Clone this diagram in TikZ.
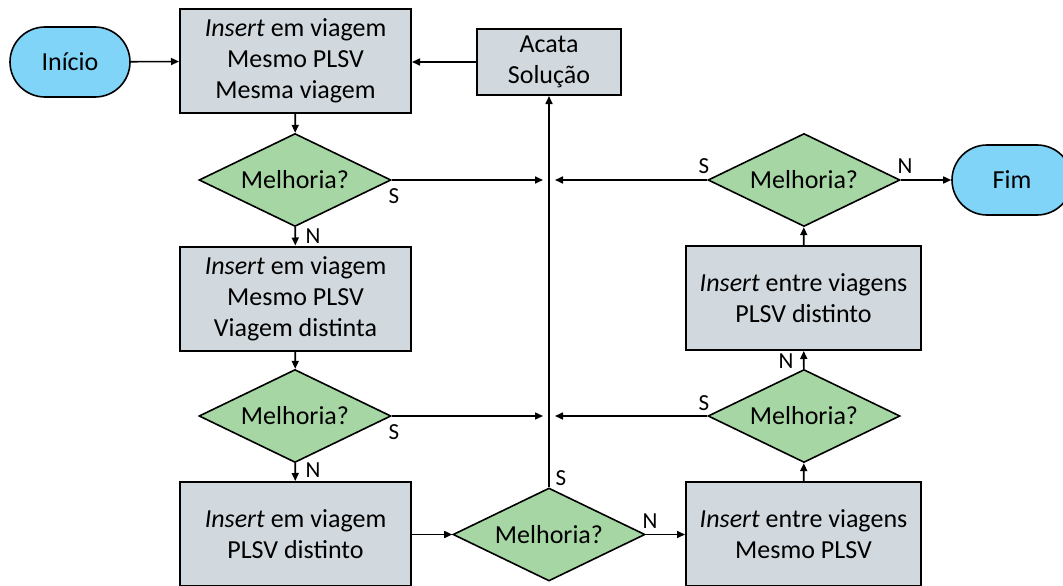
\documentclass[tikz,border=0pt]{standalone}
\usepackage{fontspec}
\setmainfont{Carlito}
\usetikzlibrary{shapes.geometric,shapes.misc,arrows.meta}
\definecolor{boxgray}{HTML}{D1D9DE}
\definecolor{decgreen}{HTML}{A6D6A3}
\definecolor{termblue}{HTML}{80D4F8}

\begin{document}
\begin{tikzpicture}[x=1pt,y=-1pt,
  every node/.style={font=\fontsize{26}{31}\selectfont, align=center},
  procbox/.style={draw, line width=2pt, fill=boxgray, minimum width=231, minimum height=104, inner sep=0},
  decision/.style={draw, line width=1.6pt, fill=decgreen, diamond, aspect=2.06, minimum width=192, minimum height=93, inner sep=0},
  terminal/.style={draw, line width=1.6pt, fill=termblue, rounded rectangle, minimum width=120, minimum height=70, inner sep=0},
  flow/.style={line width=1.6pt, -{Triangle[length=8pt,width=7pt]}},
  branch/.style={font=\fontsize{23}{25}\selectfont, inner sep=0}
]
\useasboundingbox (0,0) rectangle (1063,586);

% terminals
\node[terminal] (start) at (70,62) {Início};
\node[terminal] (stop) at (1012,180) {Fim};

% left column
\node[procbox] (b1) at (295.5,61) {\textit{Insert} em viagem\\Mesmo PLSV\\Mesma viagem};
\node[decision] (d1) at (295,180) {Melhoria?};
\node[procbox] (b2) at (295.5,298.5) {\textit{Insert} em viagem\\Mesmo PLSV\\Viagem distinta};
\node[decision] (d2) at (295,416) {Melhoria?};
\node[procbox] (b3) at (295.5,534) {\textit{Insert} em viagem\\PLSV distinto};

% middle
\node[procbox, minimum width=144, minimum height=66] (acc) at (549,62) {Acata\\Solução};
\node[decision] (d4) at (549,534.5) {Melhoria?};

% right column
\node[procbox, minimum width=235] (b4) at (803.5,534) {\textit{Insert} entre viagens\\Mesmo PLSV};
\node[decision] (d5) at (804,416) {Melhoria?};
\node[procbox, minimum width=235] (b5) at (803.5,298) {\textit{Insert} entre viagens\\PLSV distinto};
\node[decision] (d6) at (804,180) {Melhoria?};

% junctions on the return line
\coordinate (j1) at (549,180);
\coordinate (j2) at (549,416);

% connectors
\draw[flow] (start) -- (b1);
\draw[flow] (acc) -- (b1.east |- acc);
\draw[flow] (b1) -- (d1);
\draw[flow] (d1) -- (b2);
\draw[flow] (b2) -- (d2);
\draw[flow] (d2) -- (b3);
\draw[flow] (b3.east |- d4) -- (d4);
\draw[flow] (d4) -- (b4.west |- d4);
\draw[flow] (b4) -- (d5);
\draw[flow] (d5) -- (b5);
\draw[flow] (b5) -- (d6);
\draw[flow] (d6) -- (stop);
\draw[flow] (d4.north) -- (acc.south);
\draw[flow] (d1.east) -- ([xshift=-6pt]j1);
\draw[flow] (d6.west) -- ([xshift=6pt]j1);
\draw[flow] (d2.east) -- ([xshift=-6pt]j2);
\draw[flow] (d5.west) -- ([xshift=6pt]j2);

% branch labels
\node[branch] (s1) at (394,196) {S};
\node[branch] (n1) at (313,236) {N};
\node[branch] (s2) at (394,432) {S};
\node[branch] (n2) at (313,470) {N};
\node[branch] (s4) at (561,478) {S};
\node[branch] (n4) at (650,521) {N};
\node[branch] (s5) at (704,403) {S};
\node[branch] (n5) at (786,361) {N};
\node[branch] (s6) at (704,166) {S};
\node[branch] (n6) at (905,166) {N};
\end{tikzpicture}
\end{document}
